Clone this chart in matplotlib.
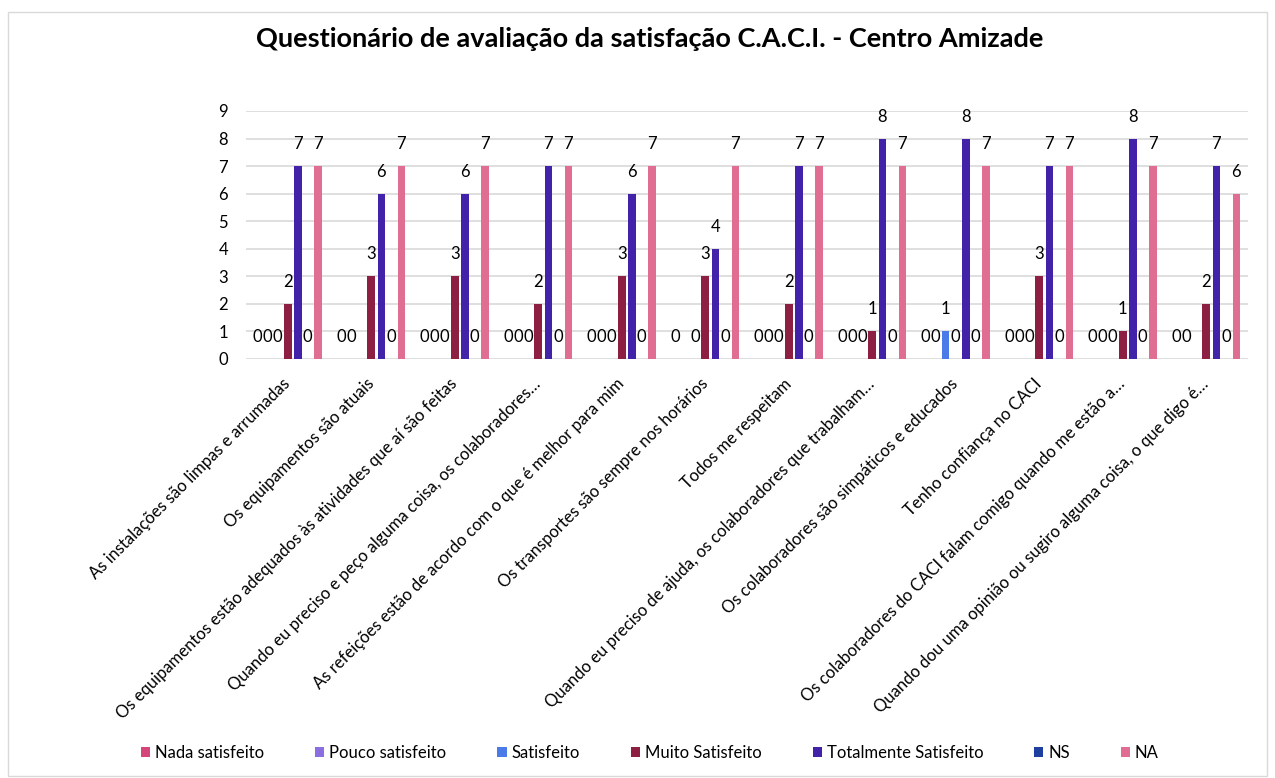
import numpy as np
import matplotlib
matplotlib.use("Agg")
import matplotlib.pyplot as plt
from matplotlib.patches import Rectangle

plt.rcParams['font.family'] = ['Lato', 'DejaVu Sans']

categories = [
    "As instalações são limpas e arrumadas",
    "Os equipamentos são atuais",
    "Os equipamentos estão adequados às atividades que aí são feitas",
    "Quando eu preciso e peço alguma coisa, os colaboradores…",
    "As refeições estão de acordo com o que é melhor para mim",
    "Os transportes são sempre nos horários",
    "Todos me respeitam",
    "Quando eu preciso de ajuda, os colaboradores que trabalham…",
    "Os colaboradores são simpáticos e educados",
    "Tenho confiança no CACI",
    "Os colaboradores do CACI falam comigo quando me estão a…",
    "Quando dou uma opinião ou sugiro alguma coisa, o que digo é…",
]

series_names = ["Nada satisfeito", "Pouco satisfeito", "Satisfeito", "Muito Satisfeito",
                "Totalmente Satisfeito", "NS", "NA"]

nan = np.nan
nada_satisfeito = [0, 0, 0, 0, 0, 0, 0, 0, 0, 0, 0, 0]
pouco_satisfeito = [0, 0, 0, 0, 0, nan, 0, 0, 0, 0, 0, 0]
satisfeito = [0, nan, 0, 0, 0, 0, 0, 0, 1, 0, 0, nan]
muito_satisfeito = [2, 3, 3, 2, 3, 3, 2, 1, 0, 3, 1, 2]
totalmente_satisfeito = [7, 6, 6, 7, 6, 4, 7, 8, 8, 7, 8, 7]
ns = [0, 0, 0, 0, 0, 0, 0, 0, 0, 0, 0, 0]
na = [7, 7, 7, 7, 7, 7, 7, 7, 7, 7, 7, 6]

series_values = [nada_satisfeito, pouco_satisfeito, satisfeito, muito_satisfeito,
                 totalmente_satisfeito, ns, na]
colors = ["#D6457A", "#8B6FE0", "#4A7BE8", "#8C1F42", "#4222A8", "#1E3FA0", "#E06E92"]

W, H = 1275, 778
fig = plt.figure(figsize=(W / 100, H / 100), dpi=100)
fig.patch.set_facecolor("white")

# chart border
fig.patches.append(Rectangle((8 / W, 1 - 776 / H), (1267 - 8) / W, (776 - 12) / H,
                             transform=fig.transFigure, fill=False,
                             edgecolor="#D9D9D9", linewidth=1.0))

ax_left, ax_right = 246, 1248
ax_top, ax_bottom = 111, 359
ax = fig.add_axes([ax_left / W, 1 - ax_bottom / H, (ax_right - ax_left) / W, (ax_bottom - ax_top) / H])

x = np.arange(len(categories))
slot = 0.12
bw = 0.09
fs = 12

for i, (name, vals, c) in enumerate(zip(series_names, series_values, colors)):
    vals = np.array(vals, dtype=float)
    pos = x + (i - 3) * slot
    mask = ~np.isnan(vals)
    ax.bar(pos[mask], vals[mask], width=bw, color=c, label=name, zorder=3)
    for p, v in zip(pos[mask], vals[mask]):
        ax.annotate(f"{int(v)}", (p, v), xytext=(0, 15.8), textcoords="offset points",
                    ha="center", va="center", fontsize=fs, color="#000000", zorder=4)

ax.set_xlim(-0.5, len(categories) - 0.5)
ax.set_ylim(0, 9)
ax.set_yticks(range(0, 10))
ax.yaxis.grid(True, color="#D9D9D9", linewidth=1.2, zorder=0)
ax.set_axisbelow(True)
for s in ["top", "right", "left", "bottom"]:
    ax.spines[s].set_visible(False)
ax.tick_params(axis="y", length=0, pad=13, labelsize=fs)
ax.tick_params(axis="x", length=0, pad=16, labelsize=fs)
ax.set_xticks(x)
ax.set_xticklabels(categories, rotation=45, ha="right", va="center", rotation_mode="anchor")

fig.text(650 / W, 1 - 39 / H, "Questionário de avaliação da satisfação C.A.C.I. - Centro Amizade",
         ha="center", va="center", fontsize=19.5, fontweight="bold")

leg = fig.legend(loc="center", bbox_to_anchor=(650 / W, 1 - 753 / H), ncol=7, frameon=False,
                 fontsize=fs, handlelength=0.55, handleheight=0.55, handletextpad=0.3,
                 columnspacing=3.05)

fig.savefig("out.png", dpi=100, facecolor="white")
